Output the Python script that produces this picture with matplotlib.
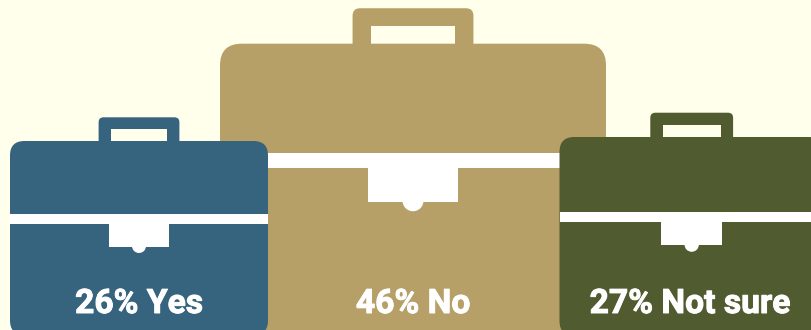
import matplotlib
matplotlib.use("Agg")
import matplotlib.pyplot as plt
import matplotlib.patheffects as pe
from matplotlib.patches import Circle, FancyBboxPatch, Rectangle

# survey results
answers = ["Yes", "No", "Not sure"]
shares = [26, 46, 27]

# layout, in pixels of the 812x330 picture
centers = [139, 413, 691.7]
label_centers = [139, 413, 690]
body_tops = [141, 43.7, 137]
colors = ["#36637D", "#B6A068", "#505B30"]
draw_order = [1, 0, 2]  # the big case sits behind the two small ones

BACKGROUND = "#FFFFEC"
BASE_SHARE = 26
GROWTH_PER_POINT = 0.0248


def rounded(ax, x0, y0, x1, y1, radius, color):
    patch = FancyBboxPatch(
        (x0 + radius, y0 + radius),
        x1 - x0 - 2 * radius,
        y1 - y0 - 2 * radius,
        boxstyle=f"round,pad={radius},rounding_size={radius}",
        facecolor=color,
        edgecolor="none",
    )
    ax.add_patch(patch)


def draw_case(ax, share, cx, top, color):
    s = 1 + GROWTH_PER_POINT * (share - BASE_SHARE)

    # handle
    rounded(ax, cx - 40.4 * s, top - 23.7 * s, cx + 40.4 * s, top + 20, 5 * s, color)
    ax.add_patch(
        Rectangle(
            (cx - 28.3 * s, top - 11.7 * s),
            56.6 * s,
            11.7 * s,
            facecolor=BACKGROUND,
            edgecolor="none",
        )
    )

    # body
    rounded(ax, cx - 129 * s, top, cx + 129 * s, top + 194 * s, 14.5 * s, color)

    # white band and clasp
    ax.add_patch(
        Rectangle(
            (cx - 129 * s, top + 73 * s),
            258 * s,
            10.3 * s,
            facecolor="white",
            edgecolor="none",
        )
    )
    ax.add_patch(
        Rectangle(
            (cx - 30 * s, top + 80 * s),
            60 * s,
            25.6 * s,
            facecolor="white",
            edgecolor="none",
        )
    )
    ax.add_patch(
        Circle((cx, top + 105 * s), 7 * s, facecolor="white", edgecolor="none")
    )


fig = plt.figure(figsize=(8.12, 3.30), dpi=100)
fig.patch.set_facecolor(BACKGROUND)
ax = fig.add_axes([0, 0, 1, 1])
ax.set_xlim(0, 812)
ax.set_ylim(330, 0)
ax.axis("off")

for i in draw_order:
    draw_case(ax, shares[i], centers[i], body_tops[i], colors[i])

for share, answer, cx in zip(shares, answers, label_centers):
    ax.text(
        cx,
        313,
        f"{share}% {answer}",
        color="white",
        fontsize=24.2,
        fontweight="bold",
        family="Roboto",
        ha="center",
        va="baseline",
        path_effects=[pe.withStroke(linewidth=0.7, foreground="white")],
    )

fig.savefig("out.png", dpi=100, facecolor=BACKGROUND)
